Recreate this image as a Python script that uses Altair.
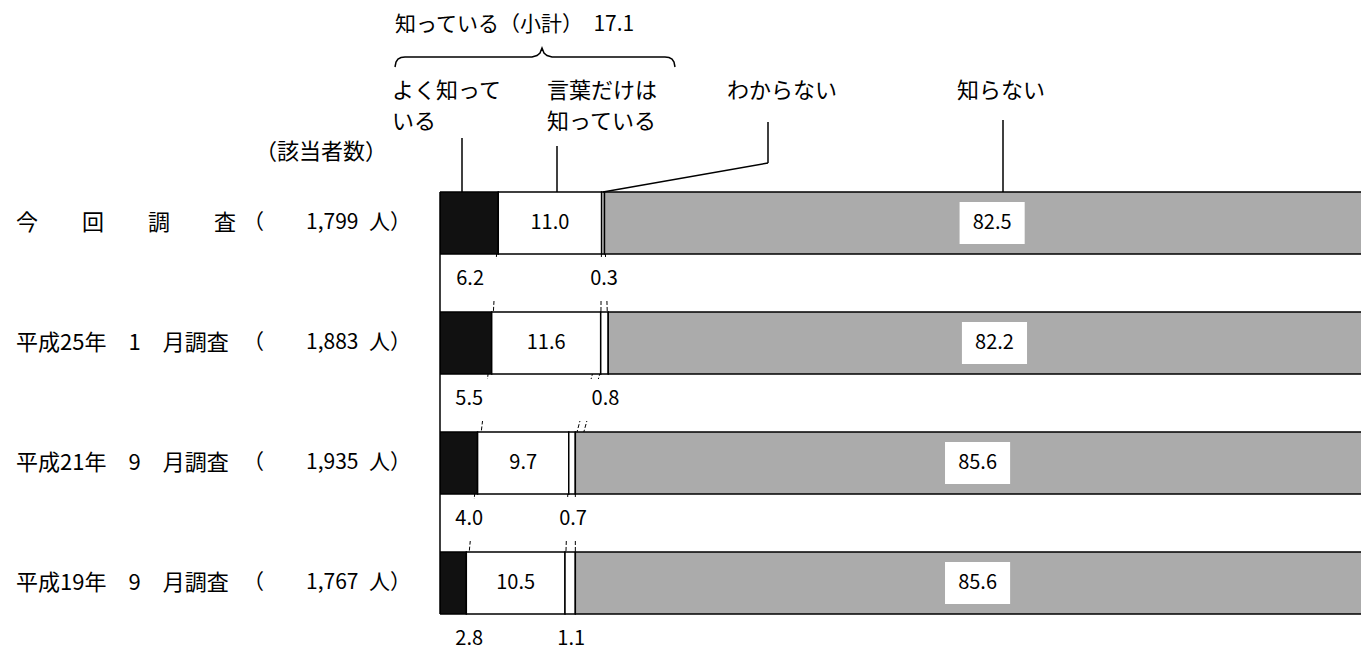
import altair as alt
import pandas as pd

# ---------------- data ----------------
surveys = ["今回調査", "平成25年1月調査", "平成21年9月調査", "平成19年9月調査"]
survey_names = ["今　　回　　調　　査", "平成25年　1　月調査", "平成21年　9　月調査", "平成19年　9　月調査"]
respondents = ["1,799", "1,883", "1,935", "1,767"]
categories = ["よく知っている", "言葉だけは知っている", "わからない", "知らない"]
know_well = [6.2, 5.5, 4.0, 2.8]
know_word = [11.0, 11.6, 9.7, 10.5]
unknown = [0.3, 0.8, 0.7, 1.1]
not_know = [82.5, 82.2, 85.6, 85.6]
subtotal_now = 17.1

colors = ["#111111", "#ffffff", "#ffffff", "#ababab"]
FONT = "Noto Sans CJK JP"

# ---------------- tables ----------------
series = [know_well, know_word, unknown, not_know]
rows = []
for i, s in enumerate(surveys):
    start = 0.0
    for cat, vals in zip(categories, series):
        v = vals[i]
        rows.append(dict(survey=s, cat=cat, value=v, start=start, end=start + v,
                         mid=start + v / 2, label=f"{v:.1f}"))
        start += v
seg = pd.DataFrame(rows)

outside = seg[seg["cat"].isin([categories[0], categories[2]])].copy()
outside["lx"] = outside.apply(
    lambda r: max(r["mid"], 3.0) if r["cat"] == categories[0] else r["mid"], axis=1)
inside = seg[seg["cat"].isin([categories[1], categories[3]])].copy()
big = seg[seg["cat"] == categories[3]].copy()

links = []
for i in range(len(surveys) - 1):
    a = seg[seg["survey"] == surveys[i]].reset_index(drop=True)
    b = seg[seg["survey"] == surveys[i + 1]].reset_index(drop=True)
    for k in range(3):
        links.append(dict(x=a.loc[k, "end"], x2=b.loc[k, "end"],
                          y=surveys[i], y2=surveys[i + 1]))
links = pd.DataFrame(links)

left = pd.DataFrame(dict(survey=surveys, name=survey_names,
                         count=[f"（\u3000\u3000{n}\u2002人）" for n in respondents]))

# annotation layout (page pixel coords -> plot coords, plot origin at page (440,186))
OX, OY = 440, 186
ann = pd.DataFrame([
    dict(t=f"知っている（小計）\u3000{subtotal_now}", x=395, y=14, fs=21),
    dict(t="よく知って\nいる", x=392, y=81, fs=22),
    dict(t="言葉だけは\n知っている", x=547, y=81, fs=22),
    dict(t="わからない", x=727, y=81, fs=22),
    dict(t="知らない", x=957, y=81, fs=22),
    dict(t="（該当者数）", x=255, y=142, fs=22),
])
ann["px"] = ann["x"] - OX
ann["py"] = ann["y"] - OY

leaders = pd.DataFrame([
    dict(x=462, y=138, x2=462, y2=192),
    dict(x=557, y=146, x2=557, y2=192),
    dict(x=768, y=122, x2=768, y2=163),
    dict(x=768, y=163, x2=603, y2=192),
    dict(x=1003, y=120, x2=1003, y2=192),
])
for c in ["x", "x2"]:
    leaders[c] = leaders[c] - OX
for c in ["y", "y2"]:
    leaders[c] = leaders[c] - OY

brace_pts = [(395, 67), (396, 62), (398, 59), (401, 57.5), (405, 57), (532, 57), (537, 55.5),
             (540, 53), (542, 48), (544, 53), (547, 55.5), (552, 57), (665, 57), (669, 57.5),
             (672, 59), (674, 62), (675, 67)]
brace = pd.DataFrame([dict(o=i, px=x - OX, py=y - OY) for i, (x, y) in enumerate(brace_pts)])

axis_line = pd.DataFrame([dict(x=0, y=6, y2=428)])

# ---------------- scales ----------------
xs = alt.Scale(domain=[0, 98], nice=False, zero=False)
ys = alt.Scale(type="band", domain=surveys, paddingInner=0.48333, paddingOuter=0.05)

X = lambda f: alt.X(f, scale=xs, axis=None)
Y = lambda **kw: alt.Y("survey:N", scale=ys, axis=None, **kw)

# ---------------- layers ----------------
link_layer = alt.Chart(links).mark_rule(color="black", strokeWidth=1, strokeDash=[4, 2]).encode(
    x=X("x:Q"), x2="x2:Q",
    y=alt.Y("y:N", scale=ys, axis=None), y2="y2:N")

bars = alt.Chart(seg).mark_bar(stroke="black", strokeWidth=1.5, clip=True).encode(
    x=X("start:Q"), x2="end:Q", y=Y(),
    color=alt.Color("cat:N", scale=alt.Scale(domain=categories, range=colors), legend=None))

box_out = alt.Chart(outside).mark_point(
    shape="M-1.8,-1H1.8V1H-1.8Z", size=1764, filled=True, fill="white",
    stroke=None, opacity=1, yOffset=26).encode(
    x=X("lx:Q"), y=Y(bandPosition=1))

box_in = alt.Chart(big).mark_point(
    shape="M-1.55,-1H1.55V1H-1.55Z", size=1764, filled=True, fill="white",
    stroke=None, opacity=1).encode(
    x=X("mid:Q"), y=Y())

axis_rule = alt.Chart(axis_line).mark_rule(color="black", strokeWidth=1.5).encode(
    x=alt.X("x:Q", scale=None, axis=None),
    y=alt.Y("y:Q", scale=None, axis=None), y2="y2:Q")

out_text = alt.Chart(outside).mark_text(font=FONT, fontSize=20, color="black",
                                        baseline="middle", dy=25, dx=1).encode(
    x=X("lx:Q"), y=Y(bandPosition=1), text="label:N")

in_text = alt.Chart(inside).mark_text(font=FONT, fontSize=20, color="black",
                                      baseline="middle").encode(
    x=X("mid:Q"), y=Y(), text="label:N")

name_text = alt.Chart(left).mark_text(font=FONT, fontSize=22, color="black",
                                      align="left", baseline="middle").encode(
    x=alt.value(16 - OX), y=Y(), text="name:N")

count_text = alt.Chart(left).mark_text(font=FONT, fontSize=21, color="black",
                                       align="right", baseline="middle").encode(
    x=alt.value(411 - OX), y=Y(), text="count:N")

ann_text = alt.Chart(ann).mark_text(font=FONT, color="black",
                                    align="left", baseline="top",
                                    lineBreak="\n", lineHeight=31).encode(
    x=alt.X("px:Q", scale=None, axis=None),
    y=alt.Y("py:Q", scale=None, axis=None), text="t:N",
    size=alt.Size("fs:Q", scale=None, legend=None))

leader_rules = alt.Chart(leaders).mark_rule(color="black", strokeWidth=1.5).encode(
    x=alt.X("x:Q", scale=None, axis=None), x2="x2:Q",
    y=alt.Y("y:Q", scale=None, axis=None), y2="y2:Q")

brace_line = alt.Chart(brace).mark_line(color="black", strokeWidth=1.5).encode(
    x=alt.X("px:Q", scale=None, axis=None),
    y=alt.Y("py:Q", scale=None, axis=None), order="o:Q")

chart = alt.layer(
    link_layer, bars, box_out, box_in, axis_rule, out_text, in_text,
    name_text, count_text, ann_text, leader_rules, brace_line
).resolve_scale(x="independent", y="independent").properties(
    width=921, height=434,
    padding={"left": 432, "top": 178, "right": 0, "bottom": 31},
    autosize="none",
    background="white",
).configure_view(stroke=None)

chart.save("out.html", embed_options={"renderer": "svg", "actions": False})
